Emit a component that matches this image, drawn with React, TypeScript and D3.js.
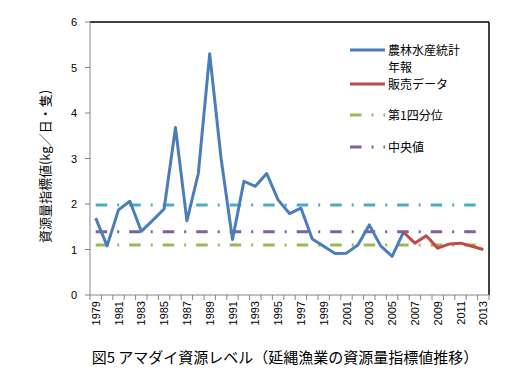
import React from "react";
import * as d3 from "d3";

const years: number[] = d3.range(1979, 2014);
const blueYears: number[] = d3.range(1979, 2007);
const blueValues: number[] = [
  1.69, 1.08, 1.87, 2.06, 1.4, 1.64, 1.89, 3.68, 1.63, 2.67,
  5.3, 3.0, 1.22, 2.5, 2.39, 2.67, 2.09, 1.79, 1.91, 1.23,
  1.07, 0.91, 0.92, 1.1, 1.54, 1.08, 0.85, 1.38,
];
const redYears: number[] = d3.range(2006, 2014);
const redValues: number[] = [1.38, 1.14, 1.3, 1.03, 1.12, 1.14, 1.07, 1.0];
const refNames: string[] = ["第3四分位", "中央値", "第1四分位"];
const refValues: number[] = [1.98, 1.39, 1.1];
const yTicks: number[] = [0, 1, 2, 3, 4, 5, 6];
const legendNames: string[] = ["農林水産統計年報", "販売データ", "第1四分位", "中央値"];

const W = 517;
const H = 385;
const left = 90;
const right = 489;
const top = 22;
const bottom = 295;

const BLUE = "#4A7EBB";
const RED = "#BE4B48";
const GREEN = "#98B954";
const PURPLE = "#7D60A0";
const CYAN = "#4BACC6";
const refColors = [CYAN, PURPLE, GREEN];
const DASH = "11.5,10,2,10";

export default function App() {
  const x = d3.scaleBand<number>().domain(years).range([left, right]).padding(0);
  const cx = (yr: number) => (x(yr) as number) + x.bandwidth() / 2;
  const y = d3.scaleLinear().domain([0, 6]).range([bottom, top]);
  const line = d3
    .line<[number, number]>()
    .x((d) => cx(d[0]))
    .y((d) => y(d[1]));
  const blueData = blueYears.map((yr, i) => [yr, blueValues[i]] as [number, number]);
  const redData = redYears.map((yr, i) => [yr, redValues[i]] as [number, number]);
  const x0 = cx(years[0]);
  const x1 = cx(years[years.length - 1]);
  const fontJP = "'Noto Sans CJK JP', 'Noto Sans', sans-serif";
  const fontNum = "'Liberation Sans', Arial, sans-serif";

  const legendItems = [
    { name: legendNames[0], color: BLUE, dash: null as string | null },
    { name: legendNames[1], color: RED, dash: null },
    { name: legendNames[2], color: GREEN, dash: DASH },
    { name: legendNames[3], color: PURPLE, dash: DASH },
  ];
  const legendY = [50, 84, 115, 147];

  return (
    <svg
      width={W}
      height={H}
      style={{ position: "absolute", left: 0, top: 0, background: "#fff" }}
    >
      <rect x={0} y={0} width={W} height={H} fill="#fff" />
      {/* plot border */}
      <line x1={left} x2={right} y1={top} y2={top} stroke="#000" strokeWidth={1.5} />
      <line x1={right} x2={right} y1={top} y2={bottom} stroke="#000" strokeWidth={1.5} />

      {/* reference lines */}
      {refValues.map((v, i) => (
        <line
          key={refNames[i]}
          x1={x0}
          x2={x1}
          y1={y(v)}
          y2={y(v)}
          stroke={refColors[i]}
          strokeWidth={3}
          strokeDasharray={DASH}
        />
      ))}

      {/* data lines */}
      <path d={line(blueData) || ""} fill="none" stroke={BLUE} strokeWidth={3} strokeLinejoin="round" />
      <path d={line(redData) || ""} fill="none" stroke={RED} strokeWidth={3} strokeLinejoin="round" />

      {/* axes */}
      <line x1={left} x2={left} y1={top} y2={bottom} stroke="#868686" strokeWidth={1} />
      <line x1={left} x2={right} y1={bottom} y2={bottom} stroke="#868686" strokeWidth={1} />
      {yTicks.map((t) => (
        <g key={t}>
          <line x1={left - 5} x2={left} y1={y(t)} y2={y(t)} stroke="#868686" />
          <text
            x={left - 13}
            y={y(t) + 4}
            textAnchor="end"
            fontSize={11}
            fontFamily={fontNum}
            fill="#000"
          >
            {t}
          </text>
        </g>
      ))}
      {years.map((yr) => (
        <line
          key={"t" + yr}
          x1={x(yr) as number}
          x2={x(yr) as number}
          y1={bottom}
          y2={bottom + 5}
          stroke="#868686"
        />
      ))}
      <line x1={right} x2={right} y1={bottom} y2={bottom + 5} stroke="#868686" />
      {years
        .filter((yr) => (yr - 1979) % 2 === 0)
        .map((yr) => (
          <text
            key={"l" + yr}
            transform={`translate(${cx(yr) + 4},${bottom + 6}) rotate(-90)`}
            textAnchor="end"
            fontSize={11}
            fontFamily={fontNum}
            fill="#000"
          >
            {yr}
          </text>
        ))}

      {/* y axis label */}
      <text
        transform={`translate(50,${(top + bottom) / 2 + 8}) rotate(-90)`}
        textAnchor="middle"
        fontSize={13}
        fontFamily={fontJP}
        fill="#000"
      >
        資源量指標値(kg／日・隻)
      </text>

      {/* legend */}
      {legendItems.map((it, i) => (
        <g key={it.name}>
          <line
            x1={350}
            x2={385}
            y1={legendY[i]}
            y2={legendY[i]}
            stroke={it.color}
            strokeWidth={3}
            strokeDasharray={it.dash || undefined}
          />
          {i === 0 ? (
            <text x={388} y={legendY[i] + 4.5} fontSize={12} fontFamily={fontJP} fill="#000">
              <tspan x={388}>農林水産統計</tspan>
              <tspan x={388} dy={17.5}>年報</tspan>
            </text>
          ) : (
            <text x={388} y={legendY[i] + 4.5} fontSize={12} fontFamily={fontJP} fill="#000">
              {it.name}
            </text>
          )}
        </g>
      ))}

      {/* title */}
      <text
        x={285}
        y={363}
        textAnchor="middle"
        fontSize={15}
        fontFamily={fontJP}
        fill="#000"
      >
        図5 アマダイ資源レベル（延縄漁業の資源量指標値推移）
      </text>
    </svg>
  );
}
